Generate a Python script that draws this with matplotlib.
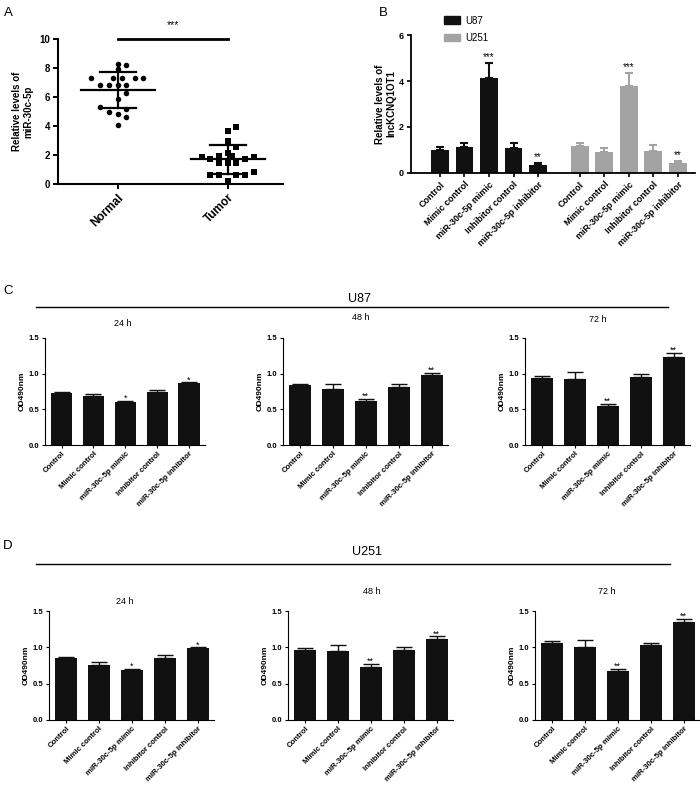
import numpy as np
import matplotlib
matplotlib.use('Agg')
import matplotlib.pyplot as plt
from matplotlib.patches import Patch
from matplotlib.lines import Line2D

plt.rcParams['font.family'] = ['Liberation Sans', 'DejaVu Sans']

W, H = 700, 786

# ---- data: panel A (miR-30c-5p levels, tissue) ----
normal_vals = [8.30, 8.18, 7.93, 7.33, 7.33, 7.33, 7.33, 7.33, 6.85, 6.85,
               6.85, 6.85, 6.30, 5.86, 5.33, 5.20, 4.94, 4.83, 4.62, 4.07]
normal_jit = [0, 0.073, 0, -0.242, -0.042, 0.036, 0.152, 0.23, -0.167, -0.079,
              0, 0.073, 0.073, 0, -0.167, 0.073, -0.079, 0, 0.073, 0]
tumor_vals = [3.93, 3.63, 2.99, 2.57, 2.14, 1.93, 1.93, 1.86, 1.86, 1.70,
              1.72, 1.45, 1.45, 1.45, 0.64, 0.64, 0.64, 0.64, 0.83, 0.23]
tumor_jit = [0.076, 0, 0, 0.076, 0, -0.079, 0.036, -0.24, 0.233, -0.16,
             0.155, -0.079, 0, 0.076, -0.16, -0.079, 0.076, 0.155, 0.233, 0]
a_labels = ['Normal', 'Tumor']

# ---- data: panel B (lncKCNQ1OT1 levels) ----
groups = ['Control', 'Mimic control', 'miR-30c-5p mimic',
          'Inhibitor control', 'miR-30c-5p inhibitor']
u87_mean = [0.98, 1.12, 4.14, 1.10, 0.33]
u87_err = [0.14, 0.20, 0.65, 0.20, 0.10]
u251_mean = [1.18, 0.91, 3.79, 0.96, 0.42]
u251_err = [0.14, 0.19, 0.55, 0.25, 0.12]
b_sig = ['', '', '***', '', '**']

# ---- data: panels C/D (OD490nm) ----
u87_24h = [0.735, 0.687, 0.597, 0.750, 0.867]
u87_24h_err = [0.015, 0.033, 0.019, 0.027, 0.010]
u87_48h = [0.844, 0.780, 0.615, 0.812, 0.980]
u87_48h_err = [0.014, 0.078, 0.036, 0.046, 0.034]
u87_72h = [0.944, 0.920, 0.544, 0.953, 1.240]
u87_72h_err = [0.023, 0.100, 0.033, 0.047, 0.050]
u251_24h = [0.850, 0.755, 0.685, 0.850, 0.985]
u251_24h_err = [0.012, 0.050, 0.016, 0.045, 0.015]
u251_48h = [0.970, 0.950, 0.735, 0.970, 1.110]
u251_48h_err = [0.015, 0.080, 0.035, 0.040, 0.040]
u251_72h = [1.065, 1.006, 0.672, 1.038, 1.353]
u251_72h_err = [0.028, 0.100, 0.032, 0.027, 0.042]
sig_24h = ['', '', '*', '', '*']
sig_later = ['', '', '**', '', '**']
times = ['24 h', '48 h', '72 h']


def px_axes(fig, x0, y0, x1, y1):
    # axes from pixel box (top-left origin)
    return fig.add_axes([x0 / W, 1 - y1 / H, (x1 - x0) / W, (y1 - y0) / H])


def clean(ax, lw):
    for s in ['top', 'right']:
        ax.spines[s].set_visible(False)
    for s in ['left', 'bottom']:
        ax.spines[s].set_linewidth(lw)


fig = plt.figure(figsize=(W / 100, H / 100), dpi=100)

# ---------------- panel A ----------------
ax = px_axes(fig, 58, 39, 283, 184)
ax.scatter(np.array(normal_jit), normal_vals, marker='o', s=16, color='black', zorder=3, linewidths=0)
ax.scatter(1 + np.array(tumor_jit), tumor_vals, marker='s', s=16, color='black', zorder=3, linewidths=0)
for i, vals in enumerate([normal_vals, tumor_vals]):
    m = np.mean(vals)
    sd = np.std(vals, ddof=1)
    ax.plot([i - 0.336, i + 0.336], [m, m], color='black', lw=1.6)
    ax.plot([i - 0.167, i + 0.167], [m + sd, m + sd], color='black', lw=1.6)
    ax.plot([i - 0.167, i + 0.167], [m - sd, m - sd], color='black', lw=1.6)
    ax.plot([i, i], [m - sd, m + sd], color='black', lw=1.6)
ax.plot([0, 1], [10, 10], color='black', lw=2, clip_on=False)
ax.annotate('***', xy=(0.5, 10), xytext=(0, 8), textcoords='offset points',
            ha='center', va='baseline', fontsize=7.5)
ax.set_xlim(-0.545, 1.5)
ax.set_ylim(0, 10)
ax.set_yticks([0, 2, 4, 6, 8, 10])
ax.set_xticks([0, 1])
ax.set_xticklabels(a_labels, rotation=45, ha='right', rotation_mode='anchor',
                   fontsize=8.5, fontweight='bold')
for t in ax.get_yticklabels():
    t.set_fontsize(7)
    t.set_fontweight('bold')
ax.tick_params(width=1.4, length=3.5, pad=2)
clean(ax, 1.5)
ax.set_ylabel('Relative levels of\nmiR-30c-5p', fontsize=7, fontweight='bold')
ax.yaxis.set_label_coords(-0.11, 0.5)

# ---------------- panel B ----------------
ax = px_axes(fig, 411, 35, 695, 173)
x87 = np.arange(5)
x251 = np.arange(5) + 5.7
for xs, mean, err, col in [(x87, u87_mean, u87_err, '#111111'),
                           (x251, u251_mean, u251_err, '#a3a3a3')]:
    ax.bar(xs, mean, width=0.73, color=col)
    ax.errorbar(xs, mean, yerr=[np.zeros(5), err], fmt='none', ecolor=col,
                elinewidth=1.5, capsize=3.2, capthick=1.5)
    for x, m, e, s in zip(xs, mean, err, b_sig):
        if s:
            ax.annotate(s, xy=(x, m + e), xytext=(0, 2), textcoords='offset points',
                        ha='center', va='baseline', fontsize=7)
ax.set_xlim(-1.18, 10.4)
ax.set_ylim(0, 6)
ax.set_yticks([0, 2, 4, 6])
ax.set_xticks(np.concatenate([x87, x251]))
ax.set_xticklabels(groups * 2, rotation=45, ha='right', rotation_mode='anchor',
                   fontsize=6.5, fontweight='bold')
for t in ax.get_yticklabels():
    t.set_fontsize(6.5)
    t.set_fontweight('bold')
ax.tick_params(width=1.2, length=3, pad=2)
clean(ax, 1.3)
ax.set_ylabel('Relative levels of\nlncKCNQ1OT1', fontsize=7, fontweight='bold')
ax.yaxis.set_label_coords(-0.05, 0.5)
handles = [Patch(color='#111111'), Patch(color='#a3a3a3')]
ax.legend(handles, ['U87', 'U251'], loc='upper left', bbox_to_anchor=(0.116, 1.14),
          frameon=False, fontsize=7, handlelength=1.7, handleheight=0.85,
          handletextpad=0.5, labelspacing=0.75, borderpad=0, borderaxespad=0)

# ---------------- panels C / D ----------------
c_boxes = [(45, 338, 205, 445), (283, 338, 448, 445), (525, 338, 690, 445)]
d_boxes = [(49, 611, 214, 720), (288, 611, 453, 720), (535, 611, 700, 720)]
c_titles = [(123, 323), (361, 318), (598, 319)]
d_titles = [(125, 602), (372, 592), (607, 592)]
c_data = [(u87_24h, u87_24h_err, sig_24h), (u87_48h, u87_48h_err, sig_later),
          (u87_72h, u87_72h_err, sig_later)]
d_data = [(u251_24h, u251_24h_err, sig_24h), (u251_48h, u251_48h_err, sig_later),
          (u251_72h, u251_72h_err, sig_later)]

for boxes, tpos, data in [(c_boxes, c_titles, c_data), (d_boxes, d_titles, d_data)]:
    for box, tp, tname, (vals, errs, sig) in zip(boxes, tpos, times, data):
        ax = px_axes(fig, *box)
        xs = np.arange(5)
        ax.bar(xs, vals, width=0.67, color='#111111')
        ax.errorbar(xs, vals, yerr=[np.zeros(5), errs], fmt='none', ecolor='#111111',
                    elinewidth=1, capsize=6, capthick=1)
        for x, v, e, s in zip(xs, vals, errs, sig):
            if s:
                ax.annotate(s, xy=(x, v + e), xytext=(0, 0), textcoords='offset points',
                            ha='center', va='baseline', fontsize=6.5)
        ax.set_xlim(-0.52, 4.5)
        ax.set_ylim(0, 1.5)
        ax.set_yticks([0, 0.5, 1.0, 1.5])
        ax.set_yticklabels(['0.0', '0.5', '1.0', '1.5'], fontsize=5.5, fontweight='bold')
        ax.set_xticks(xs)
        ax.set_xticklabels(groups, rotation=45, ha='right', rotation_mode='anchor',
                           fontsize=5.6, fontweight='bold')
        ax.tick_params(width=0.8, length=2.5, pad=1.5)
        clean(ax, 0.8)
        ax.set_ylabel('OD490nm', fontsize=6, fontweight='bold', labelpad=2)
        fig.text(tp[0] / W, 1 - tp[1] / H, tname, ha='center', va='center', fontsize=6.5)

# section headers, lines and panel letters
fig.add_artist(Line2D([36 / W, 668 / W], [1 - 307 / H, 1 - 307 / H], color='black', lw=1))
fig.add_artist(Line2D([36 / W, 670 / W], [1 - 564 / H, 1 - 564 / H], color='black', lw=1))
fig.text(360 / W, 1 - 299 / H, 'U87', ha='center', va='center', fontsize=9)
fig.text(367 / W, 1 - 552 / H, 'U251', ha='center', va='center', fontsize=9)
for letter, (lx, ly) in zip('ABCD', [(8, 13), (383, 13), (8, 291), (8, 546)]):
    fig.text(lx / W, 1 - ly / H, letter, ha='center', va='center', fontsize=9.5)

fig.savefig('out.png', dpi=100)
